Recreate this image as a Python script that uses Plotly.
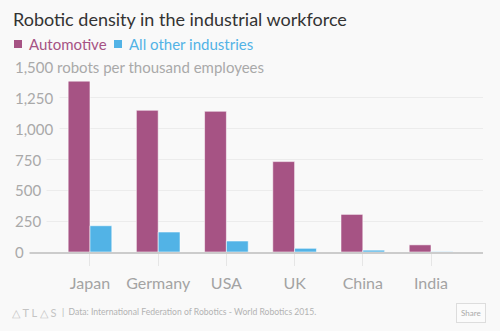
import plotly.graph_objects as go

# Robots per 10,000 employees, 2014
countries = ["Japan", "Germany", "USA", "UK", "China", "India"]
automotive = [1414, 1149, 1141, 733, 305, 58]
all_other = [213, 162, 89, 30, 15, 3]
series_names = ["Automotive", "All other industries"]
series_colors = ["#a65384", "#52b3e6"]
y_ticks = [0, 250, 500, 750, 1000, 1250, 1500]
y_tick_text = ["0", "250", "500", "750", "1,000", "1,250", "1,500 robots per thousand employees"]

BG = "#f9f9f9"
FONT = "Lato"

fig = go.Figure()
for name, vals, col in zip(series_names, [automotive, all_other], series_colors):
    fig.add_trace(go.Bar(
        x=countries, y=vals, name=name,
        marker=dict(color=col, line=dict(color="rgba(255,255,255,0.55)", width=1)),
        showlegend=False,
    ))

# y tick labels, left aligned with a background that hides the gridline beneath
for v, t in zip(y_ticks, y_tick_text):
    fig.add_annotation(
        x=0, xref="paper", xanchor="left", xshift=-5,
        y=v, yref="y", yanchor="middle",
        text=t, showarrow=False, bgcolor=BG, borderpad=5,
        font=dict(family=FONT, size=15, color="#a9a9a9"),
    )

# legend row
legend_x = [14, 114]
for name, col, lx in zip(series_names, series_colors, legend_x):
    fig.add_shape(type="rect", xref="paper", yref="paper",
                  x0=(lx - 14) / 469, x1=(lx - 6) / 469,
                  y0=(252 - 48) / 185, y1=(252 - 40) / 185,
                  fillcolor=col, line_width=0, layer="above")
    fig.add_annotation(
        x=(lx - 14 + 13) / 469, xref="paper", xanchor="left",
        y=(252 - 44) / 185, yref="paper", yanchor="middle",
        text=name, showarrow=False,
        font=dict(family=FONT, size=15, color=col),
    )

# title
fig.add_annotation(
    x=-3 / 469, xref="paper", xanchor="left",
    y=(252 - 19) / 185, yref="paper", yanchor="middle",
    text="Robotic density in the industrial workforce", showarrow=False,
    font=dict(family=FONT, size=18, color="#333333"),
)

# footer
fig.add_annotation(
    x=-4 / 469, xref="paper", xanchor="left",
    y=(252 - 312) / 185, yref="paper", yanchor="middle",
    text="△ T L △ S", showarrow=False,
    font=dict(family=FONT, size=11, color="#c4c4c4"),
)
fig.add_annotation(
    x=(60 - 14) / 469, xref="paper", xanchor="left",
    y=(252 - 312) / 185, yref="paper", yanchor="middle",
    text="|  Data: International Federation of Robotics - World Robotics 2015.",
    showarrow=False,
    font=dict(family=FONT, size=8.6, color="#b3b3b3"),
)
fig.add_annotation(
    x=(471 - 14) / 469, xref="paper", xanchor="center",
    y=(252 - 312.5) / 185, yref="paper", yanchor="middle",
    text="Share", showarrow=False, bordercolor="#dddddd", borderwidth=1,
    borderpad=4, bgcolor="#fbfbfb",
    font=dict(family=FONT, size=8, color="#aaaaaa"),
)

fig.update_layout(
    width=500, height=331,
    margin=dict(l=14, r=17, t=67, b=79),
    paper_bgcolor=BG, plot_bgcolor=BG,
    barmode="group", bargap=0.36, bargroupgap=0.0,
    font=dict(family=FONT),
    xaxis=dict(
        range=[-1.114, 5.762], showgrid=False, zeroline=False,
        showline=True, linecolor="#cccccc", linewidth=2,
        ticks="outside", ticklen=12, tickcolor="#e6e6e6", tickwidth=1,
        ticklabelstandoff=4,
        tickfont=dict(family=FONT, size=16, color="#a3a3a3"),
    ),
    yaxis=dict(
        range=[0, 1500], tickvals=y_ticks, showticklabels=False,
        showgrid=True, gridcolor="#ececec", gridwidth=1, zeroline=False,
    ),
)

fig.write_html("out.html")
